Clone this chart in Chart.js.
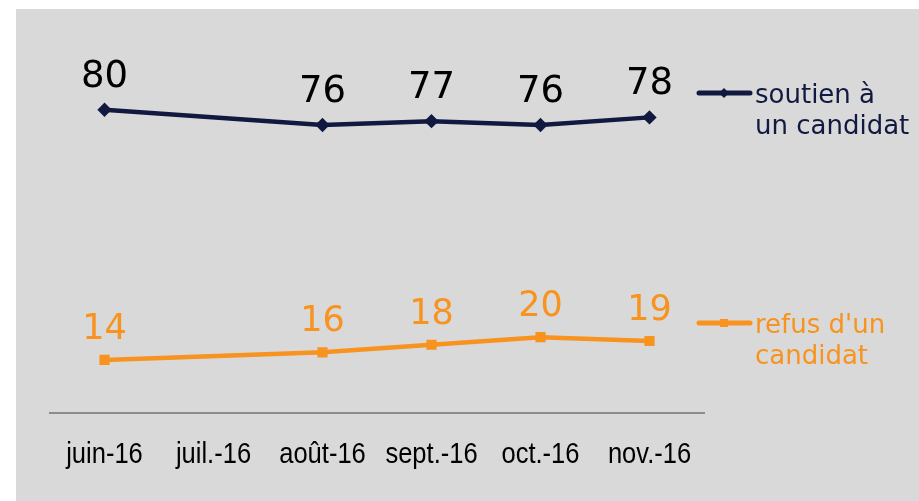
<!DOCTYPE html>
<html>
<head>
<meta charset="utf-8">
<script src="https://cdn.jsdelivr.net/npm/chart.js@4/dist/chart.umd.min.js"></script>
<style>
  html, body { margin: 0; padding: 0; background: #ffffff; }
  #box { position: absolute; left: 16px; top: 9px; width: 903px; height: 492px; background: #d9d9d9; }
</style>
</head>
<body>
<div id="box"><canvas id="myChart" width="903" height="492"></canvas></div>
<script>
var months = ['juin-16', 'juil.-16', 'août-16', 'sept.-16', 'oct.-16', 'nov.-16'];
var soutien = [80, null, 76, 77, 76, 78];
var refus = [14, null, 16, 18, 20, 19];
var soutienLabel = ['soutien à', 'un candidat'];
var refusLabel = ["refus d'un", 'candidat'];

var navy = '#111941';
var orange = '#f7931e';

// value labels above the points
var valueLabels = {
    id: 'valueLabels',
    afterDatasetsDraw(chart) {
        var ctx = chart.ctx;
        chart.data.datasets.forEach((ds, i) => {
            var meta = chart.getDatasetMeta(i);
            ctx.save();
            ctx.font = ds.labelFont;
            ctx.fillStyle = ds.labelColor;
            ctx.textAlign = 'center';
            ctx.textBaseline = 'alphabetic';
            meta.data.forEach((pt, j) => {
                var v = ds.data[j];
                if (v == null) return;
                ctx.fillText(v, pt.x, pt.y - ds.labelGap);
            });
            ctx.restore();
        });
    }
};

// month labels, squeezed like the original condensed font
var squeezedTicks = {
    id: 'squeezedTicks',
    afterDraw(chart) {
        var ctx = chart.ctx;
        var xs = chart.scales.x;
        ctx.save();
        ctx.font = '29px "Liberation Sans"';
        ctx.fillStyle = '#000000';
        ctx.textAlign = 'center';
        ctx.textBaseline = 'alphabetic';
        xs.ticks.forEach((t, i) => {
            var x = xs.getPixelForTick(i);
            ctx.save();
            ctx.translate(x, chart.chartArea.bottom + 50);
            ctx.scale(0.88, 1);
            ctx.fillText(chart.data.labels[t.value], 0, 0);
            ctx.restore();
        });
        ctx.restore();
    }
};

// legend drawn to the right, next to each line
var sideLegend = {
    id: 'sideLegend',
    afterDraw(chart) {
        var ctx = chart.ctx;
        chart.data.datasets.forEach((ds) => {
            var y = ds.legendY;
            ctx.save();
            ctx.strokeStyle = ds.borderColor;
            ctx.lineWidth = 5;
            ctx.lineCap = 'round';
            ctx.beginPath();
            ctx.moveTo(683, y);
            ctx.lineTo(734, y);
            ctx.stroke();
            ctx.fillStyle = ds.borderColor;
            if (ds.pointStyle == 'rect') {
                ctx.fillRect(704, y - 4, 8, 8);
            } else {
                ctx.beginPath();
                ctx.moveTo(708, y - 5);
                ctx.lineTo(713, y);
                ctx.lineTo(708, y + 5);
                ctx.lineTo(703, y);
                ctx.fill();
            }
            ctx.font = '26px "DejaVu Sans"';
            ctx.textAlign = 'left';
            ctx.textBaseline = 'alphabetic';
            ds.label.forEach((line, k) => {
                ctx.fillText(line, 739, ds.legendBase + k * ds.legendStep);
            });
            ctx.restore();
        });
    }
};

const ctx = document.getElementById('myChart').getContext('2d');
const myChart = new Chart(ctx, {
    type: 'line',
    data: {
        labels: months,
        datasets: [{
            label: soutienLabel,
            data: soutien,
            borderColor: navy,
            backgroundColor: navy,
            borderWidth: 4.5,
            pointStyle: 'rectRot',
            pointRadius: 4,
            spanGaps: true,
            tension: 0,
            labelFont: '37px "DejaVu Sans"',
            labelColor: '#000000',
            labelGap: 23,
            legendY: 84,
            legendBase: 94,
            legendStep: 31
        }, {
            label: refusLabel,
            data: refus,
            borderColor: orange,
            backgroundColor: orange,
            borderWidth: 4.5,
            pointStyle: 'rect',
            pointRadius: 4,
            spanGaps: true,
            tension: 0,
            labelFont: '35px "DejaVu Sans"',
            labelColor: orange,
            labelGap: 21,
            legendY: 314,
            legendBase: 324,
            legendStep: 31
        }]
    },
    options: {
        responsive: false,
        animation: false,
        layout: { padding: { left: 34, right: 215, top: 25, bottom: 0 } },
        scales: {
            y: {
                display: false,
                min: 0,
                max: 100
            },
            x: {
                offset: true,
                afterFit: (s) => { s.height = 88; },
                grid: { color: 'rgba(0,0,0,0)', drawTicks: false, offset: true },
                border: { display: true, color: '#8c8c8c', width: 2 },
                ticks: { display: false }
            }
        },
        plugins: {
            legend: { display: false },
            tooltip: { enabled: false }
        }
    },
    plugins: [valueLabels, squeezedTicks, sideLegend]
});
</script>
</body>
</html>
